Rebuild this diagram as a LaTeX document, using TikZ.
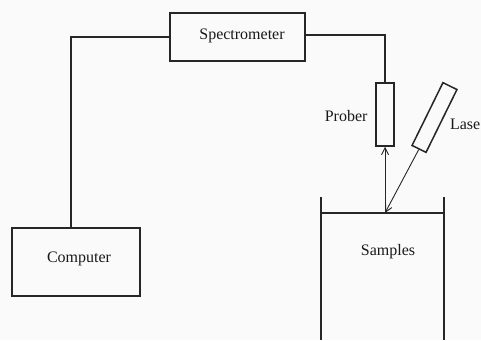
\documentclass[tikz,border=0pt]{standalone}
\usepackage{fontspec}
\setmainfont{Liberation Serif}
\usetikzlibrary{arrows.meta}
\begin{document}
\begin{tikzpicture}[x=1pt,y=1pt,
  box/.style={draw=black!85,line width=1.5pt,inner sep=0pt},
  wire/.style={draw=black!85,line width=1.3pt},
  beam/.style={draw=black!85,line width=0.9pt,-{Straight Barb[length=7pt,width=7pt]}},
  wall/.style={draw=black!85,line width=2.6pt},
  lbl/.style={font=\fontsize{16}{19}\selectfont,text=black!90}]
\fill[black!2] (0,0) rectangle (481,340);
\useasboundingbox (0,0) rectangle (481,340);
\node[box,minimum width=135pt,minimum height=48pt] (spec) at (237.5,303) {};
\node[lbl] (spectxt) at (242,304) {Spectrometer};
\node[box,minimum width=128pt,minimum height=68pt] (comp) at (76,78) {};
\node[lbl] (comptxt) at (79,81) {Computer};
\node[box,minimum width=18pt,minimum height=63pt] (prober) at (385,225.5) {};
\node[lbl,anchor=east] (probertxt) at (371,224) {Prober};
\node[box,minimum width=70pt,minimum height=15.6pt,rotate=63.8] (laser) at (434.5,222.5) {};
\node[lbl,anchor=east,inner sep=0pt] (lasertxt) at (480.5,216) {Lase};
\coordinate (surf) at (385,127);
\coordinate (cl) at (321,127);
\coordinate (cr) at (444,127);
\node[lbl] (samptxt) at (388,88) {Samples};
\draw[wire] ([xshift=-5pt]comp.north) |- (spec.west);
\draw[wire] ([yshift=2pt]spec.east) -| (prober.north);
\draw[wire] (cl) -- (cr);
\draw[wall] (321,143) -- (321,0);
\draw[wall] (444,143) -- (444,0);
\draw[beam] (surf) -- (prober.south);
\draw[beam] (laser.west) -- (surf);
\end{tikzpicture}
\end{document}
